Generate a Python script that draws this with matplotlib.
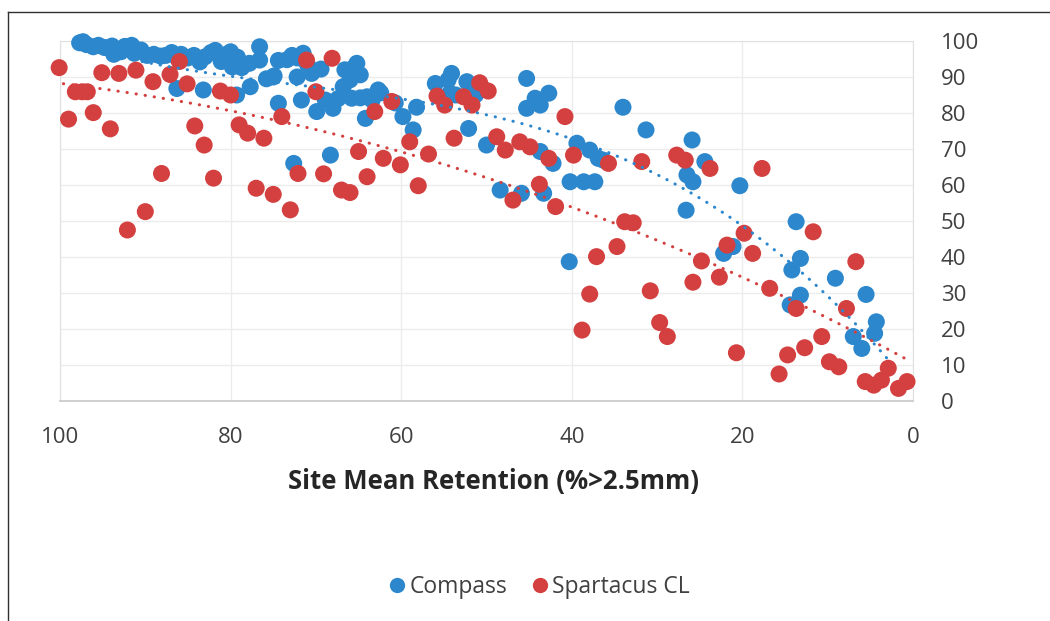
"""
Compass vs Spartacus CL: site retention scatter with polynomial trend lines.
"""

import numpy as np
import matplotlib.pyplot as plt
from matplotlib.lines import Line2D

plt.rcParams['font.family'] = ['Open Sans', 'DejaVu Sans']

# ---- Data
compass_x = [97.7, 97.3, 96.9, 96.1, 95.5, 94.8, 93.9, 93.7, 92.9, 92.4, 91.6, 91.3,
             90.5, 89.8, 89.0, 88.2, 87.6, 86.9, 86.3, 86.2, 85.8, 85.0, 84.3, 83.6,
             83.2, 83.0, 82.3, 81.8, 81.1, 80.6, 80.0, 79.8, 79.3, 79.2, 78.7, 77.8,
             77.7, 76.6, 76.6, 75.8, 75.0, 74.9, 74.4, 74.4, 73.4, 72.8, 72.6, 72.2,
             72.2, 71.7, 71.5, 71.0, 70.5, 69.9, 69.4, 68.9, 68.3, 68.0, 67.4, 66.8,
             66.6, 66.0, 65.8, 65.4, 65.2, 64.8, 64.8, 64.2, 64.0, 63.4, 62.7, 62.4,
             60.7, 59.8, 58.6, 58.2, 56.0, 54.5, 54.3, 54.1, 53.6, 52.3, 52.1, 51.3,
             50.5, 50.0, 48.4, 45.9, 45.3, 45.3, 44.3, 43.7, 43.7, 43.3, 42.7, 42.2,
             40.3, 40.2, 39.4, 38.6, 37.9, 37.3, 36.9, 36.3, 34.0, 31.3, 26.6, 26.5,
             25.9, 25.8, 24.4, 22.2, 21.1, 20.3, 14.4, 14.2, 13.7, 13.2, 13.2, 9.1,
             7.0, 6.0, 5.5, 4.5, 4.3]
compass_y = [99.5, 99.8, 99.0, 98.4, 98.8, 98.2, 98.6, 96.3, 97.0, 98.5, 98.8, 96.6,
             97.5, 96.0, 96.3, 95.8, 96.0, 96.8, 86.8, 95.2, 96.3, 95.3, 96.0, 94.2,
             86.4, 95.6, 96.8, 97.4, 94.3, 96.2, 97.0, 92.8, 85.0, 95.5, 92.6, 93.8,
             87.3, 98.4, 94.7, 89.5, 90.0, 90.3, 94.6, 82.7, 94.8, 96.0, 66.0, 95.3,
             90.0, 83.6, 96.6, 93.5, 91.0, 80.4, 92.2, 83.6, 68.3, 81.3, 84.0, 87.3,
             92.0, 89.2, 84.1, 93.0, 93.8, 90.6, 84.2, 78.5, 84.5, 83.6, 86.4, 85.6,
             82.8, 79.0, 75.3, 81.6, 88.2, 89.2, 85.5, 91.0, 85.0, 88.7, 75.7, 85.0,
             86.9, 71.1, 58.6, 57.7, 89.6, 81.3, 84.1, 82.2, 69.3, 57.7, 85.5, 66.0,
             38.7, 60.9, 71.6, 60.9, 69.7, 60.9, 67.4, 66.9, 81.6, 75.3, 53.0, 62.8,
             72.5, 60.9, 66.5, 41.0, 42.9, 59.8, 26.7, 36.4, 49.8, 39.6, 29.4, 34.1,
             17.9, 14.6, 29.6, 18.8, 22.0]

spartacus_x = [100.1, 99.0, 98.2, 97.4, 96.8, 96.1, 95.1, 94.1, 93.1, 92.1, 91.1, 90.0,
               89.1, 88.1, 87.1, 86.0, 85.1, 84.2, 83.1, 82.0, 81.2, 80.0, 79.0, 78.0,
               77.0, 76.1, 75.0, 74.0, 73.0, 72.1, 71.1, 70.0, 69.1, 68.1, 67.0, 66.0,
               65.0, 64.0, 63.1, 62.1, 61.1, 60.1, 59.0, 58.0, 56.8, 55.8, 54.9, 53.8,
               52.7, 51.7, 50.8, 49.8, 48.8, 47.8, 46.9, 46.1, 44.9, 43.8, 42.7, 41.9,
               40.8, 39.8, 38.8, 37.9, 37.1, 35.7, 34.7, 33.8, 32.8, 31.8, 30.8, 29.7,
               28.8, 27.7, 26.7, 25.8, 24.8, 23.8, 22.7, 21.8, 20.7, 19.8, 18.8, 17.7,
               16.8, 15.7, 14.7, 13.7, 12.7, 11.7, 10.7, 9.8, 8.7, 7.8, 6.7, 5.6,
               4.6, 3.7, 2.9, 1.7, 0.7]
spartacus_y = [92.6, 78.3, 85.9, 85.9, 85.9, 80.1, 91.2, 75.6, 91.0, 47.5, 91.9, 52.6,
               88.7, 63.2, 90.7, 94.3, 88.1, 76.4, 71.1, 61.9, 86.1, 85.0, 76.7, 74.4,
               59.1, 73.0, 57.4, 79.0, 53.1, 63.2, 94.7, 85.9, 63.1, 95.2, 58.6, 57.9,
               69.3, 62.3, 80.4, 67.4, 83.2, 65.6, 72.0, 59.8, 68.6, 84.7, 82.2, 73.0,
               84.5, 82.2, 88.4, 86.1, 73.4, 69.7, 55.8, 72.0, 70.6, 60.2, 67.4, 54.0,
               79.0, 68.3, 19.7, 29.7, 40.1, 66.0, 42.9, 49.8, 49.5, 66.5, 30.6, 21.8,
               17.9, 68.3, 66.9, 33.0, 38.9, 64.6, 34.4, 43.3, 13.4, 46.6, 41.0, 64.6,
               31.3, 7.5, 12.8, 25.7, 14.8, 47.0, 17.9, 10.9, 9.5, 25.7, 38.7, 5.4,
               4.4, 5.8, 9.1, 3.5, 5.4]

# Trend lines as drawn in the reference
compass_trend_x = [97.7, 77.0, 70.0, 60.0, 53.0, 40.5, 35.2, 27.3, 21.5, 19.5,
                   14.1, 8.6, 5.4, 3.7, 2.9]
compass_trend_y = [97.5, 91.0, 88.6, 83.0, 80.0, 71.7, 66.9, 59.5, 52.2, 49.3,
                   40.1, 26.2, 17.9, 12.3, 10.6]
spartacus_trend_x = [99.6, 90.6, 78.9, 67.2, 58.2, 48.4, 36.7, 31.2, 19.5, 7.8, 0.5]
spartacus_trend_y = [88.6, 84.5, 79.9, 73.9, 67.9, 61.4, 51.2, 45.6, 33.1, 20.6, 11.4]

blue = '#2c87cc'
red = '#d3403f'

# ---- Figure
fig = plt.figure(figsize=(10.5, 6.21), dpi=100)
ax = fig.add_axes([60/1050, 1 - 401/621, 853/1050, 360/621])

ax.scatter(compass_x, compass_y, s=150, color=blue, edgecolors='none',
           clip_on=False, zorder=3)
ax.scatter(spartacus_x, spartacus_y, s=150, color=red, edgecolors='none',
           clip_on=False, zorder=4)

# smooth the read trend points with a cubic and draw dotted
for tx, ty, c in [(compass_trend_x, compass_trend_y, blue),
                  (spartacus_trend_x, spartacus_trend_y, red)]:
    coef = np.polyfit(tx, ty, 3)
    xx = np.linspace(max(tx), min(tx), 200)
    ax.plot(xx, np.polyval(coef, xx), color=c, lw=2.2,
            linestyle=(0, (0.1, 2.9)), dash_capstyle='round', zorder=5)

ax.set_xlim(100, 0)
ax.set_ylim(0, 100)
ax.set_xticks(np.arange(0, 101, 20))
ax.set_yticks(np.arange(0, 101, 10))
ax.yaxis.tick_right()
ax.tick_params(axis='both', length=0, labelsize=16, colors='#404040')
ax.tick_params(axis='y', pad=20)
ax.tick_params(axis='x', pad=19)
ax.grid(True, color='#ececec', lw=1)
ax.set_axisbelow(True)
for side in ['top', 'left', 'right']:
    ax.spines[side].set_color('#e0e0e0')
ax.spines['bottom'].set_color('#c8c8c8')
ax.spines['bottom'].set_linewidth(1.2)

fig.text(493/1050, 1 - 481/621, 'Site Mean Retention (%>2.5mm)',
         ha='center', va='center', fontsize=18.5, fontweight='bold', color='#262626')

handles = [Line2D([], [], ls='none', marker='o', ms=11, color=blue, mec='none'),
           Line2D([], [], ls='none', marker='o', ms=11, color=red, mec='none')]
fig.legend(handles, ['Compass', 'Spartacus CL'], loc='center',
           bbox_to_anchor=(538/1050, 1 - 587/621), ncol=2, frameon=False,
           fontsize=16.5, handletextpad=0.05, columnspacing=0.9,
           labelcolor='#404040', handlelength=1.0)

# outer border (top and left edges visible in the reference)
fig.add_artist(Line2D([8/1050, 1], [1 - 12/621, 1 - 12/621], color='#303030', lw=1))
fig.add_artist(Line2D([8/1050, 8/1050], [0, 1 - 12/621], color='#303030', lw=1))

fig.savefig('out.png', dpi=100)
